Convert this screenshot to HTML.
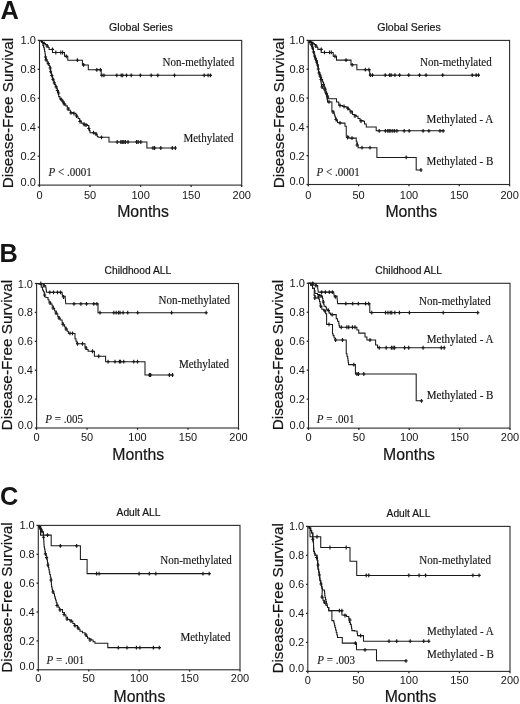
<!DOCTYPE html>
<html><head><meta charset="utf-8"><style>
html,body{margin:0;padding:0;background:#fff;}
svg{display:block;will-change:transform;font-family:"Liberation Sans", sans-serif;fill:#111;}
text{fill:#151515;}
</style></head><body>
<svg width="520" height="704" viewBox="0 0 520 704">
<text x="0.5" y="18.8" font-family='"Liberation Sans", sans-serif' font-weight="bold" font-size="25.3">A</text>
<text x="-0.6" y="261.9" font-family='"Liberation Sans", sans-serif' font-weight="bold" font-size="25.3">B</text>
<text x="-0.1" y="504.6" font-family='"Liberation Sans", sans-serif' font-weight="bold" font-size="25.3">C</text>
<g><rect x="39.5" y="40.4" width="202.2" height="144.7" fill="none" stroke="#2a2a2a" stroke-width="1.1"/><line x1="37.7" y1="185.1" x2="39.5" y2="185.1" stroke="#2a2a2a" stroke-width="1.3"/><text transform="translate(35.9,185.7) scale(0.95,1)" text-anchor="end" font-size="11.6">0.0</text><line x1="37.7" y1="156.16" x2="39.5" y2="156.16" stroke="#2a2a2a" stroke-width="1.3"/><text transform="translate(35.9,160.16) scale(0.95,1)" text-anchor="end" font-size="11.6">0.2</text><line x1="37.7" y1="127.22" x2="39.5" y2="127.22" stroke="#2a2a2a" stroke-width="1.3"/><text transform="translate(35.9,131.22) scale(0.95,1)" text-anchor="end" font-size="11.6">0.4</text><line x1="37.7" y1="98.28" x2="39.5" y2="98.28" stroke="#2a2a2a" stroke-width="1.3"/><text transform="translate(35.9,102.28) scale(0.95,1)" text-anchor="end" font-size="11.6">0.6</text><line x1="37.7" y1="69.34" x2="39.5" y2="69.34" stroke="#2a2a2a" stroke-width="1.3"/><text transform="translate(35.9,73.34) scale(0.95,1)" text-anchor="end" font-size="11.6">0.8</text><line x1="37.7" y1="40.4" x2="39.5" y2="40.4" stroke="#2a2a2a" stroke-width="1.3"/><text transform="translate(35.9,44.4) scale(0.95,1)" text-anchor="end" font-size="11.6">1.0</text><line x1="39.5" y1="185.1" x2="39.5" y2="186.9" stroke="#2a2a2a" stroke-width="1.3"/><text transform="translate(39.5,198.6) scale(0.95,1)" text-anchor="middle" font-size="11.6">0</text><line x1="90.05" y1="185.1" x2="90.05" y2="186.9" stroke="#2a2a2a" stroke-width="1.3"/><text transform="translate(90.05,198.6) scale(0.95,1)" text-anchor="middle" font-size="11.6">50</text><line x1="140.6" y1="185.1" x2="140.6" y2="186.9" stroke="#2a2a2a" stroke-width="1.3"/><text transform="translate(140.6,198.6) scale(0.95,1)" text-anchor="middle" font-size="11.6">100</text><line x1="191.15" y1="185.1" x2="191.15" y2="186.9" stroke="#2a2a2a" stroke-width="1.3"/><text transform="translate(191.15,198.6) scale(0.95,1)" text-anchor="middle" font-size="11.6">150</text><line x1="241.7" y1="185.1" x2="241.7" y2="186.9" stroke="#2a2a2a" stroke-width="1.3"/><text transform="translate(241.7,198.6) scale(0.95,1)" text-anchor="middle" font-size="11.6">200</text><text x="140.9" y="31.2" text-anchor="middle" font-size="10.6" stroke="#151515" stroke-width="0.2">Global Series</text><text x="143.1" y="217.2" text-anchor="middle" font-size="15.8" stroke="#151515" stroke-width="0.2">Months</text><text transform="translate(13.2,113.05) rotate(-90)" text-anchor="middle" font-size="15.3" stroke="#151515" stroke-width="0.2">Disease-Free Survival</text><text transform="translate(48.5,175.6) scale(0.935,1)" font-family='"Liberation Serif", serif' font-size="11.8" stroke="#151515" stroke-width="0.12"><tspan font-style="italic">P</tspan> < .0001</text><polyline points="39.5,40.4 41,40.4 41,41.5 42.5,41.5 42.5,42.5 44.2,42.5 44.2,43.5 45.5,43.5 45.5,44.5 47.2,44.5 47.2,46 48.2,46 48.2,47.5 49.1,47.5 49.1,49.4 52.5,49.4 52.5,52.5 64.5,52.5 64.5,56.3 67.8,56.3 67.8,60.2 82.4,60.2 82.4,64.9 88.3,64.9 88.3,69.8 101.2,69.8 101.2,75.3 211.5,75.3" fill="none" stroke="#1a1a1a" stroke-width="1.05" stroke-linejoin="miter"/><path d="M44 41.6v3.8M42.4 43.5h3.2M47 44.1v3.8M45.4 46h3.2M52.5 47.5v3.8M50.9 49.4h3.2M55.8 50.6v3.8M54.2 52.5h3.2M60.8 50.6v3.8M59.2 52.5h3.2M62.6 50.6v3.8M61 52.5h3.2M66.3 54.4v3.8M64.7 56.3h3.2M77.4 58.3v3.8M75.8 60.2h3.2M83.6 63v3.8M82 64.9h3.2M96.8 67.9v3.8M95.2 69.8h3.2M100.4 67.9v3.8M98.8 69.8h3.2M101.9 73.4v3.8M100.3 75.3h3.2M103.9 73.4v3.8M102.3 75.3h3.2M116.8 73.4v3.8M115.2 75.3h3.2M121.2 73.4v3.8M119.6 75.3h3.2M122.7 73.4v3.8M121.1 75.3h3.2M126.5 73.4v3.8M124.9 75.3h3.2M131.2 73.4v3.8M129.6 75.3h3.2M140.4 73.4v3.8M138.8 75.3h3.2M151.2 73.4v3.8M149.6 75.3h3.2M157.8 73.4v3.8M156.2 75.3h3.2M174.5 73.4v3.8M172.9 75.3h3.2M204.2 73.4v3.8M202.6 75.3h3.2M208.1 73.4v3.8M206.5 75.3h3.2M210.4 73.4v3.8M208.8 75.3h3.2" stroke="#1a1a1a" stroke-width="1.15"/><polyline points="39.5,40.4 41.5,40.4 41.5,42.5 42.9,42.5 42.9,45.4 43.55,45.4 43.55,47.25 44.2,47.25 44.2,49.1 44.6,49.1 44.6,51.57 45,51.57 45,54.03 45.4,54.03 45.4,56.5 45.8,56.5 45.8,58.25 46.2,58.25 46.2,60 47.1,60 47.1,61.85 48,61.85 48,63.7 48.9,63.7 48.9,65.55 49.8,65.55 49.8,67.4 50.3,67.4 50.3,70 50.8,70 50.8,72.6 51.4,72.6 51.4,74.45 52,74.45 52,76.3 52.6,76.3 52.6,78.45 53.2,78.45 53.2,80.6 54,80.6 54,82.6 54.8,82.6 54.8,84.6 55.7,84.6 55.7,86.45 56.6,86.45 56.6,88.3 57.2,88.3 57.2,90 57.8,90 57.8,91.7 58.25,91.7 58.25,94.15 58.7,94.15 58.7,96.6 59.95,96.6 59.95,98.45 61.2,98.45 61.2,100.3 62.7,100.3 62.7,102.15 64.2,102.15 64.2,104 65.75,104 65.75,105.85 67.3,105.85 67.3,107.7 68.85,107.7 68.85,110.15 70.4,110.15 70.4,112.6 73.5,112.6 73.5,113.2 75.9,113.2 75.9,115.1 77,115.1 77,116.8 78.1,116.8 78.1,118.5 79.65,118.5 79.65,120.8 81.2,120.8 81.2,123.1 84.2,123.1 84.2,124.6 87.3,124.6 87.3,125.4 88.8,125.4 88.8,128.5 89.4,128.5 89.4,130.6 90,130.6 90,132.7 92.7,132.7 95,133.1 96.15,133.1 96.15,134.8 97.3,134.8 97.3,136.5 98.1,136.5 98.1,137.3 109,137.3 109,142 146.9,142 146.9,148 175.4,148" fill="none" stroke="#1a1a1a" stroke-width="1.05" stroke-linejoin="miter"/><path d="M45.5 55.1v3.8M43.9 57h3.2M46.1 58v3.8M44.5 59.9h3.2M48.3 61.7v3.8M46.7 63.6h3.2M50.2 66.1v3.8M48.6 68h3.2M50.6 69.8v3.8M49 71.7h3.2M51.8 73.6v3.8M50.2 75.5h3.2M53 77.4v3.8M51.4 79.3h3.2M54.3 81.1v3.8M52.7 83h3.2M56.1 84.9v3.8M54.5 86.8h3.2M57.4 88.6v3.8M55.8 90.5h3.2M58.6 91.1v3.8M57 93h3.2M61.1 97.4v3.8M59.5 99.3h3.2M63 99.8v3.8M61.4 101.7h3.2M64.2 102.1v3.8M62.6 104h3.2M68 107.1v3.8M66.4 109h3.2M71 110.9v3.8M69.4 112.8h3.2M74 111.6v3.8M72.4 113.5h3.2M76.5 114.1v3.8M74.9 116h3.2M80 119.6v3.8M78.4 121.5h3.2M84.2 122.7v3.8M82.6 124.6h3.2M86 123.1v3.8M84.4 125h3.2M88.8 126.6v3.8M87.2 128.5h3.2M93.5 130.8v3.8M91.9 132.7h3.2M96 132.1v3.8M94.4 134h3.2M101.5 135.4v3.8M99.9 137.3h3.2M117.2 140.1v3.8M115.6 142h3.2M120.8 140.1v3.8M119.2 142h3.2M122.3 140.1v3.8M120.7 142h3.2M123.8 140.1v3.8M122.2 142h3.2M125.4 140.1v3.8M123.8 142h3.2M128 140.1v3.8M126.4 142h3.2M136.6 140.1v3.8M135 142h3.2M138.2 140.1v3.8M136.6 142h3.2M140.8 140.1v3.8M139.2 142h3.2M153 146.1v3.8M151.4 148h3.2M154.6 146.1v3.8M153 148h3.2M160.8 146.1v3.8M159.2 148h3.2M172.3 146.1v3.8M170.7 148h3.2M175.4 146.1v3.8M173.8 148h3.2" stroke="#1a1a1a" stroke-width="1.15"/><text transform="translate(162.6,66.3) scale(0.935,1)" font-family='"Liberation Serif", serif' font-size="11.8" stroke="#151515" stroke-width="0.15">Non-methylated</text><text transform="translate(183.4,141.9) scale(0.935,1)" font-family='"Liberation Serif", serif' font-size="11.8" stroke="#151515" stroke-width="0.15">Methylated</text></g>
<g><rect x="308.3" y="40.4" width="201.3" height="144.1" fill="none" stroke="#2a2a2a" stroke-width="1.1"/><line x1="306.5" y1="184.5" x2="308.3" y2="184.5" stroke="#2a2a2a" stroke-width="1.3"/><text transform="translate(304.7,185.1) scale(0.95,1)" text-anchor="end" font-size="11.6">0.0</text><line x1="306.5" y1="155.68" x2="308.3" y2="155.68" stroke="#2a2a2a" stroke-width="1.3"/><text transform="translate(304.7,159.68) scale(0.95,1)" text-anchor="end" font-size="11.6">0.2</text><line x1="306.5" y1="126.86" x2="308.3" y2="126.86" stroke="#2a2a2a" stroke-width="1.3"/><text transform="translate(304.7,130.86) scale(0.95,1)" text-anchor="end" font-size="11.6">0.4</text><line x1="306.5" y1="98.04" x2="308.3" y2="98.04" stroke="#2a2a2a" stroke-width="1.3"/><text transform="translate(304.7,102.04) scale(0.95,1)" text-anchor="end" font-size="11.6">0.6</text><line x1="306.5" y1="69.22" x2="308.3" y2="69.22" stroke="#2a2a2a" stroke-width="1.3"/><text transform="translate(304.7,73.22) scale(0.95,1)" text-anchor="end" font-size="11.6">0.8</text><line x1="306.5" y1="40.4" x2="308.3" y2="40.4" stroke="#2a2a2a" stroke-width="1.3"/><text transform="translate(304.7,44.4) scale(0.95,1)" text-anchor="end" font-size="11.6">1.0</text><line x1="308.3" y1="184.5" x2="308.3" y2="186.3" stroke="#2a2a2a" stroke-width="1.3"/><text transform="translate(308.3,198.6) scale(0.95,1)" text-anchor="middle" font-size="11.6">0</text><line x1="358.62" y1="184.5" x2="358.62" y2="186.3" stroke="#2a2a2a" stroke-width="1.3"/><text transform="translate(358.62,198.6) scale(0.95,1)" text-anchor="middle" font-size="11.6">50</text><line x1="408.95" y1="184.5" x2="408.95" y2="186.3" stroke="#2a2a2a" stroke-width="1.3"/><text transform="translate(408.95,198.6) scale(0.95,1)" text-anchor="middle" font-size="11.6">100</text><line x1="459.28" y1="184.5" x2="459.28" y2="186.3" stroke="#2a2a2a" stroke-width="1.3"/><text transform="translate(459.28,198.6) scale(0.95,1)" text-anchor="middle" font-size="11.6">150</text><line x1="509.6" y1="184.5" x2="509.6" y2="186.3" stroke="#2a2a2a" stroke-width="1.3"/><text transform="translate(509.6,198.6) scale(0.95,1)" text-anchor="middle" font-size="11.6">200</text><text x="409" y="31.2" text-anchor="middle" font-size="10.6" stroke="#151515" stroke-width="0.2">Global Series</text><text x="411.3" y="216.9" text-anchor="middle" font-size="15.8" stroke="#151515" stroke-width="0.2">Months</text><text transform="translate(283.9,113) rotate(-90)" text-anchor="middle" font-size="15.3" stroke="#151515" stroke-width="0.2">Disease-Free Survival</text><text transform="translate(316.5,175.6) scale(0.935,1)" font-family='"Liberation Serif", serif' font-size="11.8" stroke="#151515" stroke-width="0.12"><tspan font-style="italic">P</tspan> < .0001</text><polyline points="308.3,40.4 309.79,40.4 309.79,41.5 311.29,41.5 311.29,42.49 312.98,42.49 312.98,43.49 314.27,43.49 314.27,44.48 315.97,44.48 315.97,45.98 316.96,45.98 316.96,47.47 317.86,47.47 317.86,49.36 321.24,49.36 321.24,52.45 333.19,52.45 333.19,56.23 336.47,56.23 336.47,60.12 351.01,60.12 351.01,64.8 356.88,64.8 356.88,69.68 369.73,69.68 369.73,75.16 479.53,75.16" fill="none" stroke="#1a1a1a" stroke-width="1.05" stroke-linejoin="miter"/><path d="M312.78 41.59v3.8M311.18 43.49h3.2M315.77 44.08v3.8M314.17 45.98h3.2M321.24 47.46v3.8M319.64 49.36h3.2M324.53 50.55v3.8M322.93 52.45h3.2M329.51 50.55v3.8M327.91 52.45h3.2M331.3 50.55v3.8M329.7 52.45h3.2M334.98 54.33v3.8M333.38 56.23h3.2M346.03 58.22v3.8M344.43 60.12h3.2M352.2 62.9v3.8M350.6 64.8h3.2M365.34 67.78v3.8M363.74 69.68h3.2M368.93 67.78v3.8M367.33 69.68h3.2M370.42 73.26v3.8M368.82 75.16h3.2M372.41 73.26v3.8M370.81 75.16h3.2M385.26 73.26v3.8M383.66 75.16h3.2M389.64 73.26v3.8M388.04 75.16h3.2M391.13 73.26v3.8M389.53 75.16h3.2M394.91 73.26v3.8M393.31 75.16h3.2M399.59 73.26v3.8M397.99 75.16h3.2M408.75 73.26v3.8M407.15 75.16h3.2M419.5 73.26v3.8M417.9 75.16h3.2M426.07 73.26v3.8M424.47 75.16h3.2M442.7 73.26v3.8M441.1 75.16h3.2M472.27 73.26v3.8M470.67 75.16h3.2M476.15 73.26v3.8M474.55 75.16h3.2M478.44 73.26v3.8M476.84 75.16h3.2" stroke="#1a1a1a" stroke-width="1.15"/><polyline points="308.3,40.4 309.9,40.4 309.9,42.3 311.5,42.3 311.5,44.2 312.15,44.2 312.15,46.65 312.8,46.65 312.8,49.1 313.4,49.1 313.4,51.55 314,51.55 314,54 314.6,54 314.6,56.15 315.2,56.15 315.2,58.3 316.15,58.3 316.15,60.45 317.1,60.45 317.1,62.6 317.5,62.6 317.5,64.67 317.9,64.67 317.9,66.73 318.3,66.73 318.3,68.8 318.9,72.7 319.85,72.7 319.85,75 320.8,75 320.8,77.3 321.7,77.3 321.7,79.6 322.6,79.6 322.6,81.9 323.5,81.9 323.5,84.2 324.3,84.2 324.3,86.9 325.1,86.9 325.1,89.6 325.87,89.6 325.87,91.67 326.63,91.67 326.63,93.73 327.4,93.73 327.4,95.8 328.1,95.8 328.1,98.75 335.6,98.75 336.5,98.75 336.5,102 338.75,102 338.75,105 340.62,105 340.62,105.62 342.5,105.62 342.5,106.25 344.7,106.25 344.7,106.88 346.9,106.88 346.9,107.5 348,107.5 348,109.5 350,109.5 350,111.25 352.5,111.25 352.5,114.4 354.38,114.4 354.38,115.33 356.25,115.33 356.25,116.25 358,116.25 358,118.5 360,118.5 360,120.6 363.1,120.6 363.1,121.25 364.5,121.25 364.5,124 366.25,124 366.25,126.9 376.2,126.9 376.2,130.8 444.6,130.8" fill="none" stroke="#1a1a1a" stroke-width="1.05" stroke-linejoin="miter"/><path d="M310 40.6v3.8M308.4 42.5h3.2M311.5 43.1v3.8M309.9 45h3.2M312.5 46.1v3.8M310.9 48h3.2M313.5 50.1v3.8M311.9 52h3.2M314.5 54.1v3.8M312.9 56h3.2M315.5 57.1v3.8M313.9 59h3.2M316.5 60.1v3.8M314.9 62h3.2M317.5 63.1v3.8M315.9 65h3.2M318.3 67.1v3.8M316.7 69h3.2M319 71.1v3.8M317.4 73h3.2M320 74.1v3.8M318.4 76h3.2M321 77.6v3.8M319.4 79.5h3.2M323.5 82.6v3.8M321.9 84.5h3.2M325 87.1v3.8M323.4 89h3.2M326.5 91.6v3.8M324.9 93.5h3.2M327.7 95.1v3.8M326.1 97h3.2M340 103.6v3.8M338.4 105.5h3.2M344 104.6v3.8M342.4 106.5h3.2M348 106.6v3.8M346.4 108.5h3.2M351 110.1v3.8M349.4 112h3.2M355 114.1v3.8M353.4 116h3.2M361 119.1v3.8M359.4 121h3.2M379.2 128.9v3.8M377.6 130.8h3.2M385.4 128.9v3.8M383.8 130.8h3.2M387.7 128.9v3.8M386.1 130.8h3.2M389.2 128.9v3.8M387.6 130.8h3.2M390.8 128.9v3.8M389.2 130.8h3.2M392.8 128.9v3.8M391.2 130.8h3.2M394.6 128.9v3.8M393 130.8h3.2M396.9 128.9v3.8M395.3 130.8h3.2M404.2 128.9v3.8M402.6 130.8h3.2M409.2 128.9v3.8M407.6 130.8h3.2M423.1 128.9v3.8M421.5 130.8h3.2M428.9 128.9v3.8M427.3 130.8h3.2M440 128.9v3.8M438.4 130.8h3.2M443.1 128.9v3.8M441.5 130.8h3.2" stroke="#1a1a1a" stroke-width="1.15"/><polyline points="308.3,40.4 309.9,40.4 309.9,42.3 311.5,42.3 311.5,44.2 312.15,44.2 312.15,46.65 312.8,46.65 312.8,49.1 313.4,49.1 313.4,51.55 314,51.55 314,54 314.6,54 314.6,56.15 315.2,56.15 315.2,58.3 316.15,58.3 316.15,60.45 317.1,60.45 317.1,62.6 317.5,62.6 317.5,64.67 317.9,64.67 317.9,66.73 318.3,66.73 318.3,68.8 318.9,72.7 319.43,72.7 319.43,74.63 319.97,74.63 319.97,76.57 320.5,76.57 320.5,78.5 320.77,78.5 320.77,80.5 321.05,80.5 321.05,82.5 321.33,82.5 321.33,84.5 321.6,84.5 321.6,86.5 322.8,86.5 322.8,88.25 324,88.25 324,90 324.83,90 324.83,92.17 325.67,92.17 325.67,94.33 326.5,94.33 326.5,96.5 327,96.5 327,99.2 327.5,99.2 327.5,101.9 331.9,101.9 331.9,111.25 333.75,111.25 333.75,113.1 334.37,113.1 334.37,114.98 334.98,114.98 334.98,116.87 335.6,116.87 335.6,118.75 336.55,118.75 336.55,120.62 337.5,120.62 337.5,122.5 342.5,123.1 345,123.1 345,126.25 346.25,126.25 346.25,127.5 346.25,136.25 348.75,136.25 348.75,138.1 353.75,138.1 356.25,138.1 356.25,141.25 356.88,141.25 356.88,143.12 357.5,143.12 357.5,145 358.1,145 358.1,147.7 376.9,147.7 376.9,157.4 416.2,157.4 416.2,170 421.5,170" fill="none" stroke="#1a1a1a" stroke-width="1.05" stroke-linejoin="miter"/><path d="M322 85.1v3.8M320.4 87h3.2M329 100v3.8M327.4 101.9h3.2M333 110.1v3.8M331.4 112h3.2M336 117.6v3.8M334.4 119.5h3.2M340 120.9v3.8M338.4 122.8h3.2M347.5 135.6v3.8M345.9 137.5h3.2M352 136.2v3.8M350.4 138.1h3.2M357 143.1v3.8M355.4 145h3.2M362 145.8v3.8M360.4 147.7h3.2M370 145.8v3.8M368.4 147.7h3.2M406.2 155.5v3.8M404.6 157.4h3.2M421 168.1v3.8M419.4 170h3.2" stroke="#1a1a1a" stroke-width="1.15"/><text transform="translate(420.1,66.4) scale(0.935,1)" font-family='"Liberation Serif", serif' font-size="11.8" stroke="#151515" stroke-width="0.15">Non-methylated</text><text transform="translate(426.6,123.2) scale(0.935,1)" font-family='"Liberation Serif", serif' font-size="11.8" stroke="#151515" stroke-width="0.15">Methylated - A</text><text transform="translate(426.6,164.7) scale(0.935,1)" font-family='"Liberation Serif", serif' font-size="11.8" stroke="#151515" stroke-width="0.15">Methylated - B</text></g>
<g><rect x="36.6" y="283.5" width="201.9" height="144.5" fill="none" stroke="#2a2a2a" stroke-width="1.1"/><line x1="34.8" y1="428" x2="36.6" y2="428" stroke="#2a2a2a" stroke-width="1.3"/><text transform="translate(33,428.6) scale(0.95,1)" text-anchor="end" font-size="11.6">0.0</text><line x1="34.8" y1="399.1" x2="36.6" y2="399.1" stroke="#2a2a2a" stroke-width="1.3"/><text transform="translate(33,403.1) scale(0.95,1)" text-anchor="end" font-size="11.6">0.2</text><line x1="34.8" y1="370.2" x2="36.6" y2="370.2" stroke="#2a2a2a" stroke-width="1.3"/><text transform="translate(33,374.2) scale(0.95,1)" text-anchor="end" font-size="11.6">0.4</text><line x1="34.8" y1="341.3" x2="36.6" y2="341.3" stroke="#2a2a2a" stroke-width="1.3"/><text transform="translate(33,345.3) scale(0.95,1)" text-anchor="end" font-size="11.6">0.6</text><line x1="34.8" y1="312.4" x2="36.6" y2="312.4" stroke="#2a2a2a" stroke-width="1.3"/><text transform="translate(33,316.4) scale(0.95,1)" text-anchor="end" font-size="11.6">0.8</text><line x1="34.8" y1="283.5" x2="36.6" y2="283.5" stroke="#2a2a2a" stroke-width="1.3"/><text transform="translate(33,287.5) scale(0.95,1)" text-anchor="end" font-size="11.6">1.0</text><line x1="36.6" y1="428" x2="36.6" y2="429.8" stroke="#2a2a2a" stroke-width="1.3"/><text transform="translate(36.6,440.8) scale(0.95,1)" text-anchor="middle" font-size="11.6">0</text><line x1="87.08" y1="428" x2="87.08" y2="429.8" stroke="#2a2a2a" stroke-width="1.3"/><text transform="translate(87.08,440.8) scale(0.95,1)" text-anchor="middle" font-size="11.6">50</text><line x1="137.55" y1="428" x2="137.55" y2="429.8" stroke="#2a2a2a" stroke-width="1.3"/><text transform="translate(137.55,440.8) scale(0.95,1)" text-anchor="middle" font-size="11.6">100</text><line x1="188.03" y1="428" x2="188.03" y2="429.8" stroke="#2a2a2a" stroke-width="1.3"/><text transform="translate(188.03,440.8) scale(0.95,1)" text-anchor="middle" font-size="11.6">150</text><line x1="238.5" y1="428" x2="238.5" y2="429.8" stroke="#2a2a2a" stroke-width="1.3"/><text transform="translate(238.5,440.8) scale(0.95,1)" text-anchor="middle" font-size="11.6">200</text><text x="137.9" y="274.3" text-anchor="middle" font-size="10.25" stroke="#151515" stroke-width="0.2">Childhood ALL</text><text x="138.2" y="459.9" text-anchor="middle" font-size="15.8" stroke="#151515" stroke-width="0.2">Months</text><text transform="translate(12.3,355.15) rotate(-90)" text-anchor="middle" font-size="15.3" stroke="#151515" stroke-width="0.2">Disease-Free Survival</text><text transform="translate(45.3,422.8) scale(0.935,1)" font-family='"Liberation Serif", serif' font-size="11.8" stroke="#151515" stroke-width="0.12"><tspan font-style="italic">P</tspan> = .005</text><polyline points="36.6,283.5 40.8,283.5 41.8,284 44.2,284 44.2,285.8 45.8,285.8 45.8,287.7 46.1,287.7 46.1,290 46.4,290 46.4,292.3 61.8,292.3 62.1,292.3 62.1,294.3 62.4,294.3 62.4,296.3 65.2,296.3 65.2,297.8 65.8,303.8 98,303.8 98,312.7 207.1,312.7" fill="none" stroke="#1a1a1a" stroke-width="1.05" stroke-linejoin="miter"/><path d="M40.8 281.6v3.8M39.2 283.5h3.2M44 283.9v3.8M42.4 285.8h3.2M49.8 290.4v3.8M48.2 292.3h3.2M53.5 290.4v3.8M51.9 292.3h3.2M57.5 290.4v3.8M55.9 292.3h3.2M60.5 290.4v3.8M58.9 292.3h3.2M63.5 295.1v3.8M61.9 297h3.2M74 301.9v3.8M72.4 303.8h3.2M80.9 301.9v3.8M79.3 303.8h3.2M86.5 301.9v3.8M84.9 303.8h3.2M93.8 301.9v3.8M92.2 303.8h3.2M96.9 301.9v3.8M95.3 303.8h3.2M100 310.8v3.8M98.4 312.7h3.2M113.8 310.8v3.8M112.2 312.7h3.2M116.2 310.8v3.8M114.6 312.7h3.2M118.5 310.8v3.8M116.9 312.7h3.2M120 310.8v3.8M118.4 312.7h3.2M123.1 310.8v3.8M121.5 312.7h3.2M127.7 310.8v3.8M126.1 312.7h3.2M137.7 310.8v3.8M136.1 312.7h3.2M171.6 310.8v3.8M170 312.7h3.2M206.2 310.8v3.8M204.6 312.7h3.2" stroke="#1a1a1a" stroke-width="1.15"/><polyline points="36.6,283.5 38.3,283.5 38.3,284 40,284 40,284.5 41.25,284.5 41.25,287.25 42.5,287.25 42.5,290 43.4,290 43.4,291.75 44.3,291.75 44.3,293.5 44.65,293.5 44.65,295.25 45,295.25 45,297 47,297.5 48,297.5 48,299.7 49,299.7 49,301.9 50.55,301.9 50.55,303.95 52.1,303.95 52.1,306 53.35,306 53.35,308.5 54.6,308.5 54.6,311 56.17,311 56.17,313.75 57.75,313.75 57.75,316.5 59,316.5 59,318.25 60.25,318.25 60.25,320 62.1,320 62.1,323.1 63.35,323.1 63.35,325 64.6,325 64.6,326.9 65.87,326.9 65.87,329.03 67.13,329.03 67.13,331.17 68.4,331.17 68.4,333.3 75,333.5 75,338.75 75.95,338.75 75.95,341.25 76.9,341.25 76.9,343.75 82.5,343.75 85,343.75 85,346.9 86.25,346.9 86.25,349.4 88.1,349.4 88.1,351.25 94.4,351.25 94.4,356.25 105.6,356.25 105.6,361.7 145,361.7 145,375 173.1,375" fill="none" stroke="#1a1a1a" stroke-width="1.05" stroke-linejoin="miter"/><path d="M44.5 293.1v3.8M42.9 295h3.2M50 301.1v3.8M48.4 303h3.2M53 306.1v3.8M51.4 308h3.2M56 311.1v3.8M54.4 313h3.2M59 316.1v3.8M57.4 318h3.2M63 322.6v3.8M61.4 324.5h3.2M66 327.1v3.8M64.4 329h3.2M70 331.4v3.8M68.4 333.3h3.2M72.5 331.4v3.8M70.9 333.3h3.2M77.5 341.85v3.8M75.9 343.75h3.2M82.5 341.85v3.8M80.9 343.75h3.2M86 346.1v3.8M84.4 348h3.2M92.5 349.35v3.8M90.9 351.25h3.2M98.75 354.35v3.8M97.15 356.25h3.2M108.1 359.8v3.8M106.5 361.7h3.2M115 359.8v3.8M113.4 361.7h3.2M119.4 359.8v3.8M117.8 361.7h3.2M120.6 359.8v3.8M119 361.7h3.2M123.75 359.8v3.8M122.15 361.7h3.2M133.75 359.8v3.8M132.15 361.7h3.2M137.5 359.8v3.8M135.9 361.7h3.2M149.4 373.1v3.8M147.8 375h3.2M150.6 373.1v3.8M149 375h3.2M169.4 373.1v3.8M167.8 375h3.2M172.5 373.1v3.8M170.9 375h3.2" stroke="#1a1a1a" stroke-width="1.15"/><text transform="translate(158.5,304.2) scale(0.935,1)" font-family='"Liberation Serif", serif' font-size="11.8" stroke="#151515" stroke-width="0.15">Non-methylated</text><text transform="translate(178.9,368.1) scale(0.935,1)" font-family='"Liberation Serif", serif' font-size="11.8" stroke="#151515" stroke-width="0.15">Methylated</text></g>
<g><rect x="308.5" y="283.3" width="201.5" height="144.8" fill="none" stroke="#2a2a2a" stroke-width="1.1"/><line x1="306.7" y1="428.1" x2="308.5" y2="428.1" stroke="#2a2a2a" stroke-width="1.3"/><text transform="translate(304.9,428.7) scale(0.95,1)" text-anchor="end" font-size="11.6">0.0</text><line x1="306.7" y1="399.14" x2="308.5" y2="399.14" stroke="#2a2a2a" stroke-width="1.3"/><text transform="translate(304.9,403.14) scale(0.95,1)" text-anchor="end" font-size="11.6">0.2</text><line x1="306.7" y1="370.18" x2="308.5" y2="370.18" stroke="#2a2a2a" stroke-width="1.3"/><text transform="translate(304.9,374.18) scale(0.95,1)" text-anchor="end" font-size="11.6">0.4</text><line x1="306.7" y1="341.22" x2="308.5" y2="341.22" stroke="#2a2a2a" stroke-width="1.3"/><text transform="translate(304.9,345.22) scale(0.95,1)" text-anchor="end" font-size="11.6">0.6</text><line x1="306.7" y1="312.26" x2="308.5" y2="312.26" stroke="#2a2a2a" stroke-width="1.3"/><text transform="translate(304.9,316.26) scale(0.95,1)" text-anchor="end" font-size="11.6">0.8</text><line x1="306.7" y1="283.3" x2="308.5" y2="283.3" stroke="#2a2a2a" stroke-width="1.3"/><text transform="translate(304.9,287.3) scale(0.95,1)" text-anchor="end" font-size="11.6">1.0</text><line x1="308.5" y1="428.1" x2="308.5" y2="429.9" stroke="#2a2a2a" stroke-width="1.3"/><text transform="translate(308.5,440.8) scale(0.95,1)" text-anchor="middle" font-size="11.6">0</text><line x1="358.88" y1="428.1" x2="358.88" y2="429.9" stroke="#2a2a2a" stroke-width="1.3"/><text transform="translate(358.88,440.8) scale(0.95,1)" text-anchor="middle" font-size="11.6">50</text><line x1="409.25" y1="428.1" x2="409.25" y2="429.9" stroke="#2a2a2a" stroke-width="1.3"/><text transform="translate(409.25,440.8) scale(0.95,1)" text-anchor="middle" font-size="11.6">100</text><line x1="459.62" y1="428.1" x2="459.62" y2="429.9" stroke="#2a2a2a" stroke-width="1.3"/><text transform="translate(459.62,440.8) scale(0.95,1)" text-anchor="middle" font-size="11.6">150</text><line x1="510" y1="428.1" x2="510" y2="429.9" stroke="#2a2a2a" stroke-width="1.3"/><text transform="translate(510,440.8) scale(0.95,1)" text-anchor="middle" font-size="11.6">200</text><text x="408.6" y="274.2" text-anchor="middle" font-size="10.25" stroke="#151515" stroke-width="0.2">Childhood ALL</text><text x="409" y="459.9" text-anchor="middle" font-size="15.8" stroke="#151515" stroke-width="0.2">Months</text><text transform="translate(282.9,355) rotate(-90)" text-anchor="middle" font-size="15.3" stroke="#151515" stroke-width="0.2">Disease-Free Survival</text><text transform="translate(316.7,422.8) scale(0.935,1)" font-family='"Liberation Serif", serif' font-size="11.8" stroke="#151515" stroke-width="0.12"><tspan font-style="italic">P</tspan> = .001</text><polyline points="308.5,283.3 312.69,283.3 313.69,283.8 316.08,283.8 316.08,285.6 317.68,285.6 317.68,287.51 318.28,292.12 333.65,292.12 334.25,296.13 337.04,296.13 337.04,297.63 337.64,303.64 369.78,303.64 369.78,312.56 478.66,312.56" fill="none" stroke="#1a1a1a" stroke-width="1.05" stroke-linejoin="miter"/><path d="M312.69 281.4v3.8M311.09 283.3h3.2M315.89 283.7v3.8M314.29 285.6h3.2M321.67 290.22v3.8M320.07 292.12h3.2M325.37 290.22v3.8M323.77 292.12h3.2M329.36 290.22v3.8M327.76 292.12h3.2M332.35 290.22v3.8M330.75 292.12h3.2M335.35 294.93v3.8M333.75 296.83h3.2M345.83 301.74v3.8M344.23 303.64h3.2M352.71 301.74v3.8M351.11 303.64h3.2M358.3 301.74v3.8M356.7 303.64h3.2M365.59 301.74v3.8M363.99 303.64h3.2M368.68 301.74v3.8M367.08 303.64h3.2M371.77 310.66v3.8M370.17 312.56h3.2M385.55 310.66v3.8M383.95 312.56h3.2M387.94 310.66v3.8M386.34 312.56h3.2M390.24 310.66v3.8M388.64 312.56h3.2M391.73 310.66v3.8M390.13 312.56h3.2M394.83 310.66v3.8M393.23 312.56h3.2M399.42 310.66v3.8M397.82 312.56h3.2M409.4 310.66v3.8M407.8 312.56h3.2M443.23 310.66v3.8M441.63 312.56h3.2M477.76 310.66v3.8M476.16 312.56h3.2" stroke="#1a1a1a" stroke-width="1.15"/><polyline points="308.5,283.3 310.7,283.3 310.7,285.1 312.5,285.1 312.5,288.2 314.4,288.2 314.4,290.6 315,290.6 315,293.5 317.5,293.5 317.5,294.6 319.45,294.6 319.45,295.4 321.4,295.4 321.4,296.2 322.5,296.2 322.5,298.5 322.9,298.5 322.9,300.4 323.3,300.4 323.3,302.3 323.7,302.3 323.7,304.25 324.1,304.25 324.1,306.2 325.6,306.2 325.6,306.9 326.4,306.9 326.4,309.2 328.3,309.2 328.3,310.4 329.1,310.4 329.1,313.1 330.6,313.1 330.6,314.6 336.25,314.6 336.25,318.75 337.5,318.75 337.5,321.25 338.75,321.25 338.75,323.75 339.07,323.75 339.07,325.5 339.4,325.5 339.4,327.25 356.9,327.25 356.9,330 358.75,330 358.75,333.1 365,333.1 365,336.9 366.9,336.9 366.9,340 375.6,340 375.6,345 377.5,345 377.5,347.75 444.6,347.75" fill="none" stroke="#1a1a1a" stroke-width="1.05" stroke-linejoin="miter"/><path d="M313 282.1v3.8M311.4 284h3.2M321 294.1v3.8M319.4 296h3.2M323.3 300.1v3.8M321.7 302h3.2M328.3 308.5v3.8M326.7 310.4h3.2M332.2 312.7v3.8M330.6 314.6h3.2M341.25 325.35v3.8M339.65 327.25h3.2M346.9 325.35v3.8M345.3 327.25h3.2M348.75 325.35v3.8M347.15 327.25h3.2M352.5 325.35v3.8M350.9 327.25h3.2M355 325.35v3.8M353.4 327.25h3.2M370 338.1v3.8M368.4 340h3.2M379.2 345.85v3.8M377.6 347.75h3.2M386.2 345.85v3.8M384.6 347.75h3.2M391.5 345.85v3.8M389.9 347.75h3.2M393.1 345.85v3.8M391.5 347.75h3.2M394.6 345.85v3.8M393 347.75h3.2M404.6 345.85v3.8M403 347.75h3.2M408.7 345.85v3.8M407.1 347.75h3.2M423.1 345.85v3.8M421.5 347.75h3.2M441.3 345.85v3.8M439.7 347.75h3.2M444.2 345.85v3.8M442.6 347.75h3.2" stroke="#1a1a1a" stroke-width="1.15"/><polyline points="308.5,283.3 310.7,283.3 310.7,285.1 312.5,285.1 312.5,288.2 314.4,288.2 314.4,290.6 314.1,295.4 315.2,295.4 315.2,298 318.3,298 318.3,297 318.9,297 318.9,299.25 319.5,299.25 319.5,301.5 320.05,301.5 320.05,303.85 320.6,303.85 320.6,306.2 321.8,306.2 321.8,309.2 323.7,309.2 323.7,310.4 324.8,310.8 325.6,310.8 325.6,313.8 326.6,313.8 326.6,315.4 326.6,324.4 332.5,324.4 332.5,333.75 333.1,333.75 333.1,335.6 334.05,335.6 334.05,337.8 335,337.8 335,340 346.25,340 346.25,353.8 346.98,353.8 346.98,356.15 347.7,356.15 347.7,358.5 347.97,358.5 347.97,360.53 348.23,360.53 348.23,362.57 348.5,362.57 348.5,364.6 355.4,364.6 355.4,374 416.2,374 416.2,400.8 422.1,400.8" fill="none" stroke="#1a1a1a" stroke-width="1.05" stroke-linejoin="miter"/><path d="M314.8 296.1v3.8M313.2 298h3.2M318.3 295.1v3.8M316.7 297h3.2M320.6 304.1v3.8M319 306h3.2M324.8 308.9v3.8M323.2 310.8h3.2M329 322.5v3.8M327.4 324.4h3.2M335.6 338.1v3.8M334 340h3.2M342.5 338.1v3.8M340.9 340h3.2M353.8 362.7v3.8M352.2 364.6h3.2M356.9 372.1v3.8M355.3 374h3.2M358.5 372.1v3.8M356.9 374h3.2M363.8 372.1v3.8M362.2 374h3.2M421.5 398.9v3.8M419.9 400.8h3.2" stroke="#1a1a1a" stroke-width="1.15"/><text transform="translate(419.1,304.8) scale(0.935,1)" font-family='"Liberation Serif", serif' font-size="11.8" stroke="#151515" stroke-width="0.15">Non-methylated</text><text transform="translate(426.7,343.1) scale(0.935,1)" font-family='"Liberation Serif", serif' font-size="11.8" stroke="#151515" stroke-width="0.15">Methylated - A</text><text transform="translate(426.7,398.8) scale(0.935,1)" font-family='"Liberation Serif", serif' font-size="11.8" stroke="#151515" stroke-width="0.15">Methylated - B</text></g>
<g><rect x="38.3" y="525.4" width="201.7" height="144.4" fill="none" stroke="#2a2a2a" stroke-width="1.1"/><line x1="36.5" y1="669.8" x2="38.3" y2="669.8" stroke="#2a2a2a" stroke-width="1.3"/><text transform="translate(34.7,670.4) scale(0.95,1)" text-anchor="end" font-size="11.6">0.0</text><line x1="36.5" y1="640.92" x2="38.3" y2="640.92" stroke="#2a2a2a" stroke-width="1.3"/><text transform="translate(34.7,644.92) scale(0.95,1)" text-anchor="end" font-size="11.6">0.2</text><line x1="36.5" y1="612.04" x2="38.3" y2="612.04" stroke="#2a2a2a" stroke-width="1.3"/><text transform="translate(34.7,616.04) scale(0.95,1)" text-anchor="end" font-size="11.6">0.4</text><line x1="36.5" y1="583.16" x2="38.3" y2="583.16" stroke="#2a2a2a" stroke-width="1.3"/><text transform="translate(34.7,587.16) scale(0.95,1)" text-anchor="end" font-size="11.6">0.6</text><line x1="36.5" y1="554.28" x2="38.3" y2="554.28" stroke="#2a2a2a" stroke-width="1.3"/><text transform="translate(34.7,558.28) scale(0.95,1)" text-anchor="end" font-size="11.6">0.8</text><line x1="36.5" y1="525.4" x2="38.3" y2="525.4" stroke="#2a2a2a" stroke-width="1.3"/><text transform="translate(34.7,529.4) scale(0.95,1)" text-anchor="end" font-size="11.6">1.0</text><line x1="38.3" y1="669.8" x2="38.3" y2="671.6" stroke="#2a2a2a" stroke-width="1.3"/><text transform="translate(38.3,682) scale(0.95,1)" text-anchor="middle" font-size="11.6">0</text><line x1="88.72" y1="669.8" x2="88.72" y2="671.6" stroke="#2a2a2a" stroke-width="1.3"/><text transform="translate(88.72,682) scale(0.95,1)" text-anchor="middle" font-size="11.6">50</text><line x1="139.15" y1="669.8" x2="139.15" y2="671.6" stroke="#2a2a2a" stroke-width="1.3"/><text transform="translate(139.15,682) scale(0.95,1)" text-anchor="middle" font-size="11.6">100</text><line x1="189.57" y1="669.8" x2="189.57" y2="671.6" stroke="#2a2a2a" stroke-width="1.3"/><text transform="translate(189.57,682) scale(0.95,1)" text-anchor="middle" font-size="11.6">150</text><line x1="240" y1="669.8" x2="240" y2="671.6" stroke="#2a2a2a" stroke-width="1.3"/><text transform="translate(240,682) scale(0.95,1)" text-anchor="middle" font-size="11.6">200</text><text x="138.5" y="516.2" text-anchor="middle" font-size="10.25" stroke="#151515" stroke-width="0.2">Adult ALL</text><text x="139.4" y="702.3" text-anchor="middle" font-size="15.8" stroke="#151515" stroke-width="0.2">Months</text><text transform="translate(12.4,597.5) rotate(-90)" text-anchor="middle" font-size="15.3" stroke="#151515" stroke-width="0.2">Disease-Free Survival</text><text transform="translate(46.5,663.5) scale(0.935,1)" font-family='"Liberation Serif", serif' font-size="11.8" stroke="#151515" stroke-width="0.12"><tspan font-style="italic">P</tspan> = .001</text><polyline points="38.3,525.4 39.5,525.4 39.5,526.5 40.5,526.5 40.5,528.5 40.5,535.1 51.2,535.1 51.2,545.8 80.4,545.8 80.4,559.5 87.1,559.5 87.1,573.6 210.2,573.6" fill="none" stroke="#1a1a1a" stroke-width="1.05" stroke-linejoin="miter"/><path d="M47.5 533.2v3.8M45.9 535.1h3.2M60.4 543.9v3.8M58.8 545.8h3.2M76.6 543.9v3.8M75 545.8h3.2M96.6 571.7v3.8M95 573.6h3.2M99.1 571.7v3.8M97.5 573.6h3.2M139.1 571.7v3.8M137.5 573.6h3.2M149.3 571.7v3.8M147.7 573.6h3.2M155.8 571.7v3.8M154.2 573.6h3.2M203 571.7v3.8M201.4 573.6h3.2M209.2 571.7v3.8M207.6 573.6h3.2" stroke="#1a1a1a" stroke-width="1.15"/><polyline points="38.3,525.4 39.5,525.4 39.5,526.5 40.5,526.5 40.5,528.35 41.5,528.35 41.5,530.2 42.2,530.2 42.2,532 43.5,532 43.5,537.2 43.65,537.2 43.65,539.65 43.8,539.65 43.8,542.1 43.95,542.1 43.95,544.55 44.1,544.55 44.1,547 44.53,547 44.53,549.3 44.97,549.3 44.97,551.6 45.4,551.6 45.4,553.9 46,553.9 46,555.75 46.6,555.75 46.6,557.6 47.03,557.6 47.03,560.07 47.47,560.07 47.47,562.53 47.9,562.53 47.9,565 48.36,565 48.36,567.38 48.83,567.38 48.83,569.75 49.29,569.75 49.29,572.12 49.75,572.12 49.75,574.5 50.38,574.5 50.38,577.25 51,577.25 51,580 51.2,580 51.2,582.33 51.4,582.33 51.4,584.67 51.6,584.67 51.6,587 52.1,587 52.1,589.12 52.6,589.12 52.6,591.25 53.55,591.25 53.55,593.75 54.5,593.75 54.5,596.25 55,596.25 55,598.12 55.5,598.12 55.5,600 56.2,600 56.2,602.5 56.9,602.5 56.9,605 58.15,605 58.15,607.2 59.4,607.2 59.4,609.4 62.5,609.4 62.5,612.5 64.4,612.5 64.4,615 65.95,615 65.95,617.2 67.5,617.2 67.5,619.4 69.38,619.4 69.38,620.33 71.25,620.33 71.25,621.25 72.83,621.25 72.83,623.42 74.4,623.42 74.4,625.6 77.5,625.6 77.5,627.5 78.75,627.5 78.75,629.38 80,629.38 80,631.25 82.5,631.25 82.5,632.83 85,632.83 85,634.4 86.25,634.4 86.25,636.25 87.5,636.25 87.5,638.1 89.38,638.1 89.38,639.05 91.25,639.05 91.25,640 93.12,640 93.12,641.65 95,641.65 95,643.3 107.8,643.3 107.8,647.6 160.6,647.6" fill="none" stroke="#1a1a1a" stroke-width="1.05" stroke-linejoin="miter"/><path d="M39.6 524.9v3.8M38 526.8h3.2M40.8 527.3v3.8M39.2 529.2h3.2M42 529.7v3.8M40.4 531.6h3.2M43.5 535.3v3.8M41.9 537.2h3.2M45.4 552v3.8M43.8 553.9h3.2M46.6 555.7v3.8M45 557.6h3.2M47.9 563.1v3.8M46.3 565h3.2M51 578.1v3.8M49.4 580h3.2M53 590.1v3.8M51.4 592h3.2M57 603.6v3.8M55.4 605.5h3.2M60 608.1v3.8M58.4 610h3.2M64 612.6v3.8M62.4 614.5h3.2M67 617.1v3.8M65.4 619h3.2M71 619.1v3.8M69.4 621h3.2M75 623.7v3.8M73.4 625.6h3.2M78 626.1v3.8M76.4 628h3.2M86 633.1v3.8M84.4 635h3.2M90 638.1v3.8M88.4 640h3.2M118.3 645.7v3.8M116.7 647.6h3.2M127 645.7v3.8M125.4 647.6h3.2M136.4 645.7v3.8M134.8 647.6h3.2M139.9 645.7v3.8M138.3 647.6h3.2M153.4 645.7v3.8M151.8 647.6h3.2M159.3 645.7v3.8M157.7 647.6h3.2" stroke="#1a1a1a" stroke-width="1.15"/><text transform="translate(160.2,564) scale(0.935,1)" font-family='"Liberation Serif", serif' font-size="11.8" stroke="#151515" stroke-width="0.15">Non-methylated</text><text transform="translate(180.4,641.4) scale(0.935,1)" font-family='"Liberation Serif", serif' font-size="11.8" stroke="#151515" stroke-width="0.15">Methylated</text></g>
<g><rect x="307.8" y="526.4" width="202.2" height="145" fill="none" stroke="#2a2a2a" stroke-width="1.1"/><line x1="306" y1="671.4" x2="307.8" y2="671.4" stroke="#2a2a2a" stroke-width="1.3"/><text transform="translate(304.2,672) scale(0.95,1)" text-anchor="end" font-size="11.6">0.0</text><line x1="306" y1="642.4" x2="307.8" y2="642.4" stroke="#2a2a2a" stroke-width="1.3"/><text transform="translate(304.2,646.4) scale(0.95,1)" text-anchor="end" font-size="11.6">0.2</text><line x1="306" y1="613.4" x2="307.8" y2="613.4" stroke="#2a2a2a" stroke-width="1.3"/><text transform="translate(304.2,617.4) scale(0.95,1)" text-anchor="end" font-size="11.6">0.4</text><line x1="306" y1="584.4" x2="307.8" y2="584.4" stroke="#2a2a2a" stroke-width="1.3"/><text transform="translate(304.2,588.4) scale(0.95,1)" text-anchor="end" font-size="11.6">0.6</text><line x1="306" y1="555.4" x2="307.8" y2="555.4" stroke="#2a2a2a" stroke-width="1.3"/><text transform="translate(304.2,559.4) scale(0.95,1)" text-anchor="end" font-size="11.6">0.8</text><line x1="306" y1="526.4" x2="307.8" y2="526.4" stroke="#2a2a2a" stroke-width="1.3"/><text transform="translate(304.2,530.4) scale(0.95,1)" text-anchor="end" font-size="11.6">1.0</text><line x1="307.8" y1="671.4" x2="307.8" y2="673.2" stroke="#2a2a2a" stroke-width="1.3"/><text transform="translate(307.8,684) scale(0.95,1)" text-anchor="middle" font-size="11.6">0</text><line x1="358.35" y1="671.4" x2="358.35" y2="673.2" stroke="#2a2a2a" stroke-width="1.3"/><text transform="translate(358.35,684) scale(0.95,1)" text-anchor="middle" font-size="11.6">50</text><line x1="408.9" y1="671.4" x2="408.9" y2="673.2" stroke="#2a2a2a" stroke-width="1.3"/><text transform="translate(408.9,684) scale(0.95,1)" text-anchor="middle" font-size="11.6">100</text><line x1="459.45" y1="671.4" x2="459.45" y2="673.2" stroke="#2a2a2a" stroke-width="1.3"/><text transform="translate(459.45,684) scale(0.95,1)" text-anchor="middle" font-size="11.6">150</text><line x1="510" y1="671.4" x2="510" y2="673.2" stroke="#2a2a2a" stroke-width="1.3"/><text transform="translate(510,684) scale(0.95,1)" text-anchor="middle" font-size="11.6">200</text><text x="408.5" y="516.9" text-anchor="middle" font-size="10.25" stroke="#151515" stroke-width="0.2">Adult ALL</text><text x="410.6" y="702.3" text-anchor="middle" font-size="15.8" stroke="#151515" stroke-width="0.2">Months</text><text transform="translate(282.6,598.35) rotate(-90)" text-anchor="middle" font-size="15.3" stroke="#151515" stroke-width="0.2">Disease-Free Survival</text><text transform="translate(317.3,663.7) scale(0.935,1)" font-family='"Liberation Serif", serif' font-size="11.8" stroke="#151515" stroke-width="0.12"><tspan font-style="italic">P</tspan> = .003</text><polyline points="307.8,527 309,527 309,528.1 310.01,528.1 310.01,530.11 310.01,536.74 320.73,536.74 320.73,547.48 350,547.48 350,561.24 356.72,561.24 356.72,575.4 480.13,575.4" fill="none" stroke="#1a1a1a" stroke-width="1.05" stroke-linejoin="miter"/><path d="M317.02 534.84v3.8M315.42 536.74h3.2M329.95 545.58v3.8M328.35 547.48h3.2M346.19 545.58v3.8M344.59 547.48h3.2M366.24 573.5v3.8M364.64 575.4h3.2M368.75 573.5v3.8M367.15 575.4h3.2M408.85 573.5v3.8M407.25 575.4h3.2M419.08 573.5v3.8M417.48 575.4h3.2M425.59 573.5v3.8M423.99 575.4h3.2M472.91 573.5v3.8M471.31 575.4h3.2M479.12 573.5v3.8M477.52 575.4h3.2" stroke="#1a1a1a" stroke-width="1.15"/><polyline points="307.8,526.4 309.5,526.4 309.5,528.1 310.7,528.1 310.7,530.5 311.6,530.5 311.6,533 312.8,533 312.8,535.8 312.8,539.2 313.15,539.2 313.15,541.95 313.5,541.95 313.5,544.7 313.8,551.5 314.4,551.5 314.4,553.35 315,553.35 315,555.2 316.9,555.2 316.9,558.5 317.3,558.5 317.3,560.4 317.7,560.4 317.7,562.3 318.1,569.2 318.65,569.2 318.65,571.9 319.2,571.9 319.2,574.6 319.47,574.6 319.47,576.67 319.73,576.67 319.73,578.73 320,578.73 320,580.8 320.75,580.8 320.75,583.5 321.5,583.5 321.5,586.2 321.9,586.2 321.9,588.1 322.3,588.1 322.3,590 324.4,590 324.4,591.25 324.6,591.25 324.6,593.33 324.8,593.33 324.8,595.42 325,595.42 325,597.5 325.5,597.5 325.5,599.5 326,599.5 326,601.5 326.5,601.5 326.5,603.5 327,603.5 327,605.5 327.5,605.5 327.5,607.5 328.75,607.5 328.75,610.6 341.9,610.6 341.9,615 344.4,615 346.57,615 346.57,616.55 348.75,616.55 348.75,618.1 349.07,618.1 349.07,620.3 349.4,620.3 349.4,622.5 350.32,622.5 350.32,624.38 351.25,624.38 351.25,626.25 351.57,626.25 351.57,628.42 351.9,628.42 351.9,630.6 354.4,630.6 354.4,630.92 356.9,630.92 356.9,631.25 357.2,631.25 357.2,633.42 357.5,633.42 357.5,635.6 363.5,635.6 363.5,641.2 429.4,641.2" fill="none" stroke="#1a1a1a" stroke-width="1.05" stroke-linejoin="miter"/><path d="M312.8 537.3v3.8M311.2 539.2h3.2M316.5 555.6v3.8M314.9 557.5h3.2M318 563.1v3.8M316.4 565h3.2M319.5 573.1v3.8M317.9 575h3.2M321 582.1v3.8M319.4 584h3.2M339.4 608.7v3.8M337.8 610.6h3.2M341.9 608.7v3.8M340.3 610.6h3.2M345 613.6v3.8M343.4 615.5h3.2M350 618.1v3.8M348.4 620h3.2M360.6 633.7v3.8M359 635.6h3.2M389 639.3v3.8M387.4 641.2h3.2M396.7 639.3v3.8M395.1 641.2h3.2M410.2 639.3v3.8M408.6 641.2h3.2M423.7 639.3v3.8M422.1 641.2h3.2M428.8 639.3v3.8M427.2 641.2h3.2" stroke="#1a1a1a" stroke-width="1.15"/><polyline points="307.8,526.4 309.5,526.4 309.5,528.1 310.7,528.1 310.7,530.5 311.6,530.5 311.6,533 312.8,533 312.8,535.8 312.8,539.2 313.15,539.2 313.15,541.95 313.5,541.95 313.5,544.7 313.8,551.5 314.4,551.5 314.4,553.35 315,553.35 315,555.2 316.9,555.2 316.9,558.5 317.3,558.5 317.3,560.4 317.7,560.4 317.7,562.3 318.1,569.2 318.65,569.2 318.65,571.9 319.2,571.9 319.2,574.6 319.47,574.6 319.47,576.67 319.73,576.67 319.73,578.73 320,578.73 320,580.8 320.75,580.8 320.75,583.5 321.5,583.5 321.5,586.2 321.9,586.2 321.9,588.1 322.3,588.1 322.3,590 321.9,597.5 322.95,597.5 322.95,600.25 324,600.25 324,603 325.75,603 325.75,605.25 327.5,605.25 327.5,607.5 328.75,607.5 328.75,610.6 331.9,610.6 331.9,620.6 333.75,620.6 333.75,621.9 334.17,621.9 334.17,623.77 334.58,623.77 334.58,625.63 335,625.63 335,627.5 335.62,627.5 335.62,630 336.25,630 336.25,632.5 336.88,632.5 336.88,635 337.5,635 337.5,637.5 342.3,637.5 342.3,643.1 356.5,643.1 356.5,649.8 376.5,649.8 376.5,660.8 406.3,660.8" fill="none" stroke="#1a1a1a" stroke-width="1.05" stroke-linejoin="miter"/><path d="M322 595.1v3.8M320.4 597h3.2M324.5 600.1v3.8M322.9 602h3.2M355.4 641.2v3.8M353.8 643.1h3.2M365 647.9v3.8M363.4 649.8h3.2M406 658.9v3.8M404.4 660.8h3.2" stroke="#1a1a1a" stroke-width="1.15"/><text transform="translate(419.3,564.1) scale(0.935,1)" font-family='"Liberation Serif", serif' font-size="11.8" stroke="#151515" stroke-width="0.15">Non-methylated</text><text transform="translate(427.1,634.7) scale(0.935,1)" font-family='"Liberation Serif", serif' font-size="11.8" stroke="#151515" stroke-width="0.15">Methylated - A</text><text transform="translate(427.1,658.1) scale(0.935,1)" font-family='"Liberation Serif", serif' font-size="11.8" stroke="#151515" stroke-width="0.15">Methylated - B</text></g>
</svg>
</body></html>
